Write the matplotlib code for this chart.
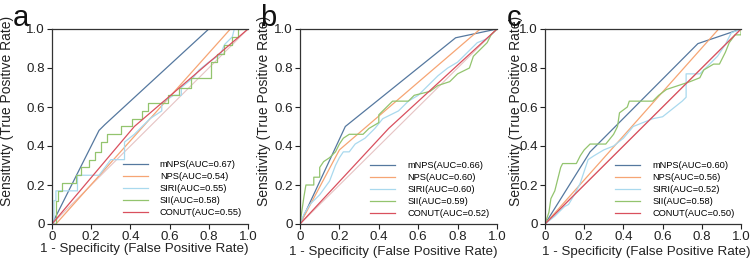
import matplotlib
matplotlib.use("Agg")
import matplotlib.pyplot as plt

plt.rcParams['font.family'] = ['Liberation Sans', 'DejaVu Sans']

# ---------------- data ----------------
model_names = ["mNPS", "NPS", "SIRI", "SII", "CONUT"]
panel_letters = ["a", "b", "c"]
auc_a = [0.67, 0.54, 0.55, 0.58, 0.55]
auc_b = [0.66, 0.60, 0.60, 0.59, 0.52]
auc_c = [0.60, 0.56, 0.52, 0.58, 0.50]

# panel a
a_mnps_fpr = [0, 0.24, 0.27, 0.80, 1.0]
a_mnps_tpr = [0, 0.48, 0.51, 1.0, 1.0]
a_nps_fpr = [0, 0.02, 0.91, 1.0]
a_nps_tpr = [0, 0.0, 1.0, 1.0]
a_siri_fpr = [0, 0.01, 0.01, 0.02, 0.02, 0.13, 0.13, 0.24, 0.27, 0.30, 0.37, 0.37, 0.42, 0.46,
              0.50, 0.56, 0.56, 0.62, 0.66, 0.66, 0.72, 0.75, 0.80, 0.86, 0.88, 0.92, 0.93, 1.0]
a_siri_tpr = [0, 0, 0.12, 0.12, 0.17, 0.17, 0.25, 0.25, 0.29, 0.33, 0.33, 0.42, 0.46, 0.50,
              0.54, 0.58, 0.62, 0.66, 0.66, 0.70, 0.75, 0.79, 0.83, 0.87, 0.92, 0.96, 1.0, 1.0]
a_sii_fpr = [0, 0.02, 0.02, 0.03, 0.03, 0.05, 0.05, 0.12, 0.12, 0.15, 0.15, 0.19, 0.19, 0.22,
             0.22, 0.25, 0.25, 0.28, 0.28, 0.35, 0.35, 0.41, 0.41, 0.46, 0.46, 0.49, 0.49, 0.59,
             0.59, 0.65, 0.65, 0.71, 0.71, 0.81, 0.81, 0.84, 0.84, 0.88, 0.88, 0.92, 0.92, 0.95,
             0.95, 1.0]
a_sii_tpr = [0, 0, 0.12, 0.12, 0.17, 0.17, 0.21, 0.21, 0.25, 0.25, 0.29, 0.29, 0.33, 0.33,
             0.37, 0.37, 0.42, 0.42, 0.46, 0.46, 0.50, 0.50, 0.54, 0.54, 0.58, 0.58, 0.62, 0.62,
             0.66, 0.66, 0.70, 0.70, 0.75, 0.75, 0.83, 0.83, 0.87, 0.87, 0.92, 0.92, 0.96, 0.96,
             1.0, 1.0]
a_conut_fpr = [0, 0.42, 1.0]
a_conut_tpr = [0, 0.50, 1.0]

# panel b
b_mnps_fpr = [0, 0.23, 0.79, 1.0]
b_mnps_tpr = [0, 0.50, 0.955, 1.0]
b_nps_fpr = [0, 0.20, 0.915, 1.0]
b_nps_tpr = [0, 0.38, 1.0, 1.0]
b_siri_fpr = [0, 0.02, 0.05, 0.10, 0.15, 0.18, 0.20, 0.22, 0.25, 0.28, 0.33, 0.38, 0.42, 0.50,
              0.55, 0.60, 0.65, 0.70, 0.75, 0.80, 0.85, 0.90, 0.95, 1.0]
b_siri_tpr = [0, 0.05, 0.10, 0.15, 0.22, 0.30, 0.34, 0.37, 0.37, 0.41, 0.44, 0.49, 0.54, 0.58,
              0.63, 0.66, 0.71, 0.76, 0.80, 0.83, 0.88, 0.93, 0.95, 1.0]
b_sii_fpr = [0, 0.01, 0.02, 0.03, 0.07, 0.07, 0.10, 0.10, 0.12, 0.15, 0.18, 0.20, 0.22, 0.25,
             0.32, 0.35, 0.40, 0.40, 0.43, 0.45, 0.47, 0.55, 0.58, 0.66, 0.70, 0.76, 0.80, 0.86,
             0.88, 0.92, 0.95, 0.97, 1.0]
b_sii_tpr = [0, 0.07, 0.14, 0.20, 0.20, 0.24, 0.24, 0.29, 0.32, 0.34, 0.37, 0.41, 0.44, 0.46,
             0.46, 0.49, 0.52, 0.56, 0.59, 0.61, 0.63, 0.63, 0.66, 0.68, 0.71, 0.73, 0.77, 0.80,
             0.86, 0.90, 0.93, 0.97, 1.0]
b_conut_fpr = [0, 0.45, 1.0]
b_conut_tpr = [0, 0.49, 1.0]

# panel c
c_mnps_fpr = [0, 0.23, 0.78, 1.0]
c_mnps_tpr = [0, 0.37, 0.925, 1.0]
c_nps_fpr = [0, 0.886, 1.0]
c_nps_tpr = [0, 1.0, 1.0]
c_siri_fpr = [0, 0.05, 0.10, 0.12, 0.15, 0.18, 0.20, 0.22, 0.25, 0.30, 0.35, 0.40, 0.45, 0.50,
              0.55, 0.60, 0.65, 0.70, 0.72, 0.72, 0.79, 0.83, 0.88, 0.92, 0.95, 1.0]
c_siri_tpr = [0, 0.04, 0.09, 0.10, 0.15, 0.21, 0.27, 0.33, 0.35, 0.38, 0.40, 0.44, 0.50, 0.52,
              0.54, 0.55, 0.59, 0.63, 0.65, 0.77, 0.77, 0.81, 0.86, 0.92, 0.98, 1.0]
c_sii_fpr = [0, 0.02, 0.03, 0.05, 0.06, 0.07, 0.08, 0.09, 0.16, 0.18, 0.20, 0.23, 0.31, 0.35,
             0.37, 0.38, 0.42, 0.43, 0.55, 0.58, 0.62, 0.68, 0.74, 0.79, 0.81, 0.86, 0.89,
             0.92, 0.94, 0.97, 1.0, 1.0]
c_sii_tpr = [0, 0.06, 0.13, 0.17, 0.21, 0.25, 0.29, 0.31, 0.31, 0.35, 0.38, 0.41, 0.41, 0.46,
             0.50, 0.57, 0.60, 0.63, 0.63, 0.66, 0.69, 0.71, 0.73, 0.75, 0.79, 0.82, 0.82,
             0.88, 0.93, 0.97, 0.97, 1.0]
c_conut_fpr = [0, 1.0]
c_conut_tpr = [0, 1.0]

curves = {
    "a": [(a_mnps_fpr, a_mnps_tpr), (a_nps_fpr, a_nps_tpr), (a_siri_fpr, a_siri_tpr),
          (a_sii_fpr, a_sii_tpr), (a_conut_fpr, a_conut_tpr)],
    "b": [(b_mnps_fpr, b_mnps_tpr), (b_nps_fpr, b_nps_tpr), (b_siri_fpr, b_siri_tpr),
          (b_sii_fpr, b_sii_tpr), (b_conut_fpr, b_conut_tpr)],
    "c": [(c_mnps_fpr, c_mnps_tpr), (c_nps_fpr, c_nps_tpr), (c_siri_fpr, c_siri_tpr),
          (c_sii_fpr, c_sii_tpr), (c_conut_fpr, c_conut_tpr)],
}
aucs = {"a": auc_a, "b": auc_b, "c": auc_c}

colors = ["#55789f", "#f6a574", "#a9d9ee", "#93c46e", "#d9505e"]
diag_color = "#e6c3c3"

tick_vals = [0, 0.2, 0.4, 0.6, 0.8, 1.0]
tick_labels = ["0", "0.2", "0.4", "0.6", "0.8", "1.0"]

# ---------------- layout ----------------
W, H = 753, 263
fig = plt.figure(figsize=(W / 100, H / 100), dpi=100)

ax_px = {"a": (52, 196), "b": (300, 197), "c": (545, 196)}
ylab_x = {"a": -0.194, "b": -0.147, "c": -0.112}
xlab_pos = {"a": (0.469, -0.098), "b": (0.472, -0.112), "c": (0.515, -0.112)}
leg_anchor = {"a": (0.36, 0.035), "b": (0.355, 0.03), "c": (0.357, 0.03)}
letter_pos = {"a": (13, 26), "b": (260, 26), "c": (507, 26)}

for key in panel_letters:
    left, width = ax_px[key]
    ax = fig.add_axes([left / W, (H - 224) / H, width / W, 195 / H])
    ax.plot([0, 1], [0, 1], color=diag_color, lw=0.8, zorder=1)
    for (fpr, tpr), name, auc, col in zip(curves[key], model_names, aucs[key], colors):
        ax.plot(fpr, tpr, color=col, lw=0.9, label=f"{name}(AUC={auc:.2f})", zorder=2)
    ax.set_xlim(0, 1)
    ax.set_ylim(0, 1)
    ax.set_xticks(tick_vals)
    ax.set_xticklabels(tick_labels)
    ax.set_yticks(tick_vals)
    ax.set_yticklabels(tick_labels)
    ax.tick_params(direction="out", length=3.5, width=0.8, labelsize=9.6, colors="#222222", pad=1.5)
    for s in ["left", "bottom", "top"]:
        ax.spines[s].set_linewidth(0.9)
        ax.spines[s].set_color("#333333")
    ax.spines["right"].set_visible(False)
    ax.set_ylabel("Sensitivity (True Positive Rate)", fontsize=10, color="#222222")
    ax.yaxis.set_label_coords(ylab_x[key], 0.58)
    ax.set_xlabel("1 - Specificity (False Positive Rate)", fontsize=9.6, color="#222222")
    ax.xaxis.set_label_coords(*xlab_pos[key])
    ax.legend(loc="lower left", bbox_to_anchor=leg_anchor[key], frameon=False, fontsize=6.7,
              handlelength=2.7, handletextpad=1.3, labelspacing=0.32, borderpad=0,
              borderaxespad=0)
    lx, ly = letter_pos[key]
    fig.text(lx / W, 1 - ly / H, key, fontsize=21, color="#111111", ha="left", va="baseline")

fig.savefig("out.png", dpi=100)
